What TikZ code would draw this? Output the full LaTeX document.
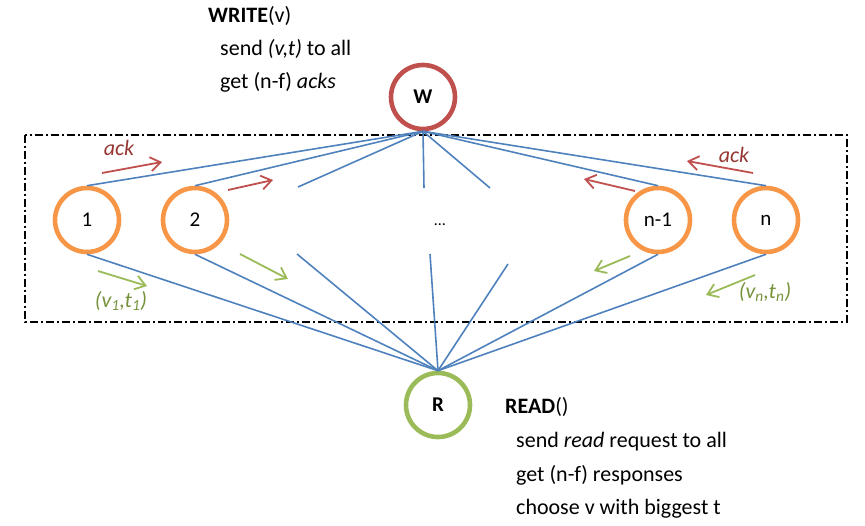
\documentclass[tikz,border=0pt]{standalone}
\usepackage{fontspec}
\setmainfont{Carlito}
\usetikzlibrary{arrows.meta, positioning}

\definecolor{wred}{RGB}{192,80,77}
\definecolor{ackred}{RGB}{150,55,52}
\definecolor{porange}{RGB}{247,150,70}
\definecolor{rgreen}{RGB}{155,187,89}
\definecolor{valgreen}{RGB}{119,147,60}
\definecolor{linkblue}{RGB}{79,129,189}

\begin{document}
\begin{tikzpicture}[x=1pt, y=-1pt, node distance=108pt,
    proc/.style={circle, draw=porange, line width=4.6pt, minimum size=64pt, inner sep=0pt, font=\fontsize{21}{24}\selectfont},
    link/.style={draw=linkblue, line width=1.6pt},
    ackarr/.style={-{Straight Barb[length=10pt, width=14pt]}, draw=wred, line width=1.8pt},
    valarr/.style={-{Straight Barb[length=10pt, width=14pt]}, draw=rgreen, line width=1.8pt},
    txt/.style={anchor=base west, inner sep=0pt, font=\fontsize{22}{26}\selectfont}]

    \useasboundingbox (0,0) rectangle (865,525);

    % writer and reader
    \node[proc, draw=wred, font=\fontsize{21}{24}\selectfont\bfseries] (w) at (423,97) {W};
    \node[proc, draw=rgreen, font=\fontsize{21}{24}\selectfont\bfseries] (r) at (438,405) {R};

    % servers
    \node[proc] (p1) at (87,220) {1};
    \node[proc, right of=p1] (p2) {2};
    \node[proc] (pn1) at (658,220) {n-1};
    \node[proc, right of=pn1] (pn) {n};
    \node[font=\fontsize{16}{18}\selectfont] (dots) at (440,225) {\dots};

    \draw[dash pattern=on 8pt off 3pt on 2pt off 3pt, line width=1.8pt] (25,135) rectangle (847,322);

    % loose ends of the links
    \coordinate (wa) at (298,187);
    \coordinate (wb) at (424,188);
    \coordinate (wc) at (490,188);
    \coordinate (ra) at (297,254);
    \coordinate (rb) at (430,254);
    \coordinate (rc) at (508,264);

    \draw[link] (w.south) -- (p1.north);
    \draw[link] (w.south) -- (p2.north);
    \draw[link] (w.south) -- (wa);
    \draw[link] (w.south) -- (wb);
    \draw[link] (w.south) -- (wc);
    \draw[link] (w.south) -- (pn1.north);
    \draw[link] (w.south) -- (pn.north);

    \draw[link] (p1.south) -- (r.north);
    \draw[link] (p2.south) -- (r.north);
    \draw[link] (ra) -- (r.north);
    \draw[link] (rb) -- (r.north);
    \draw[link] (rc) -- (r.north);
    \draw[link] (pn1.south) -- (r.north);
    \draw[link] (pn.south) -- (r.north);

    % messages
    \coordinate (a1s) at (102,173);
    \coordinate (a1e) at (162,162);
    \coordinate (a2s) at (228,190);
    \coordinate (a2e) at (273,180);
    \coordinate (a3s) at (635,191);
    \coordinate (a3e) at (584,179);
    \coordinate (a4s) at (753,173);
    \coordinate (a4e) at (687,161);
    \draw[ackarr] (a1s) -- (a1e);
    \draw[ackarr] (a2s) -- (a2e);
    \draw[ackarr] (a3s) -- (a3e);
    \draw[ackarr] (a4s) -- (a4e);

    \coordinate (g1s) at (98,271);
    \coordinate (g1e) at (147,286);
    \coordinate (g2s) at (240,254);
    \coordinate (g2e) at (288,279);
    \coordinate (g3s) at (630,256);
    \coordinate (g3e) at (594,271);
    \coordinate (g4s) at (755,275);
    \coordinate (g4e) at (706,295);
    \draw[valarr] (g1s) -- (g1e);
    \draw[valarr] (g2s) -- (g2e);
    \draw[valarr] (g3s) -- (g3e);
    \draw[valarr] (g4s) -- (g4e);

    \node[text=ackred, font=\fontsize{22}{26}\selectfont\itshape] (ackl) at (119,148) {ack};
    \node[text=ackred, font=\fontsize{22}{26}\selectfont\itshape] (ackr) at (734,155) {ack};
    \node[text=valgreen, font=\fontsize{22}{26}\selectfont\itshape] (val1) at (121,301) {(v\textsubscript{1},t\textsubscript{1})};
    \node[text=valgreen, font=\fontsize{22}{26}\selectfont\itshape] (valn) at (765,292) {(v\textsubscript{n},t\textsubscript{n})};

    % pseudocode
    \node[txt] (wtitle) at (208,22) {\textbf{WRITE}(v)};
    \node[txt] (wsend) at (220,55) {send \textit{(v,t)} to all};
    \node[txt] (wget) at (220,88) {get (n-f) \textit{acks}};
    \node[txt] (rtitle) at (505,413) {\textbf{READ}()};
    \node[txt] (rsend) at (516,447) {send \textit{read} request to all};
    \node[txt] (rget) at (516,481) {get (n-f) responses};
    \node[txt] (rchoose) at (516,514) {choose v with biggest t};
\end{tikzpicture}
\end{document}
